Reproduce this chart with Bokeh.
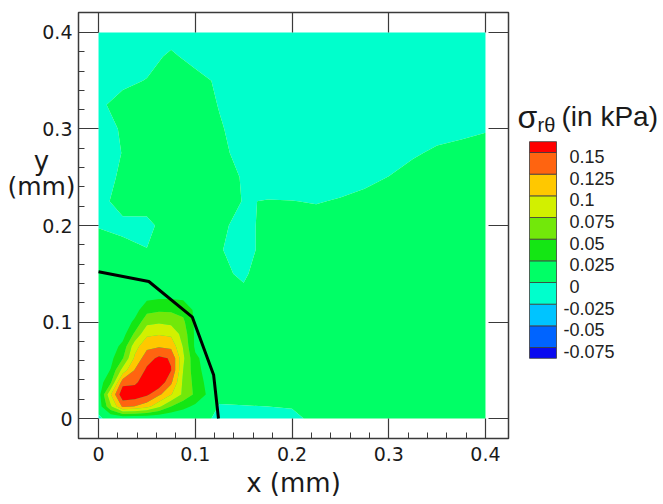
import numpy as np
from bokeh.plotting import figure
from bokeh.models import Range1d, FixedTicker, LinearAxis, Label
from bokeh.layouts import row
from bokeh.embed import file_html
from bokeh.resources import INLINE
from bokeh.core.properties import value

# ---------------- data ----------------
levels = [-0.1, -0.075, -0.05, -0.025, 0.0, 0.025, 0.05, 0.075, 0.1, 0.125, 0.15, 0.2]
palette = ["#0a0af0", "#0064ff", "#00c4ff", "#00ffcc", "#00ff66", "#14e614",
           "#72e80a", "#d2f000", "#ffc800", "#ff6410", "#ff0000"]

# coarse field over the whole domain (rows = y, cols = x), kPa
coarse_x = [0.0, 0.025, 0.05, 0.075, 0.1, 0.125, 0.15, 0.175, 0.2,
            0.225, 0.25, 0.275, 0.3, 0.325, 0.35, 0.375, 0.4]
coarse_y = [0.0, 0.025, 0.05, 0.075, 0.1, 0.125, 0.15, 0.175, 0.2,
            0.225, 0.25, 0.275, 0.3, 0.325, 0.35, 0.375, 0.4]
coarse_z = [
    [-0.004, 0.02, 0.02, 0.015, 0.012, -0.006, -0.006, -0.005, -0.004, 0.0043, 0.01, 0.01, 0.01, 0.01, 0.01, 0.01, 0.01],
    [0.02, 0.012, 0.012, 0.012, 0.012, 0.004, 0.005, 0.005, 0.006, 0.008, 0.01, 0.01, 0.01, 0.01, 0.01, 0.01, 0.01],
    [0.01, 0.01, 0.01, 0.01, 0.01, 0.01, 0.01, 0.01, 0.01, 0.01, 0.01, 0.01, 0.01, 0.01, 0.01, 0.01, 0.01],
    [0.01, 0.01, 0.01, 0.01, 0.01, 0.01, 0.01, 0.01, 0.01, 0.01, 0.01, 0.01, 0.01, 0.01, 0.01, 0.01, 0.01],
    [0.01, 0.01, 0.01, 0.01, 0.01, 0.01, 0.01, 0.01, 0.01, 0.01, 0.01, 0.01, 0.01, 0.01, 0.01, 0.01, 0.01],
    [0.01, 0.01, 0.01, 0.01, 0.01, 0.01, 0.005, 0.01, 0.012, 0.012, 0.012, 0.012, 0.012, 0.012, 0.012, 0.012, 0.012],
    [0.01, 0.01, 0.01, 0.01, 0.01, 0.004, -0.003, 0.012, 0.012, 0.012, 0.012, 0.012, 0.012, 0.012, 0.012, 0.012, 0.012],
    [0.008, 0.007, 0.0005, 0.01, 0.01, 0.002, -0.011, 0.011, 0.012, 0.012, 0.012, 0.012, 0.012, 0.012, 0.012, 0.012, 0.012],
    [-0.001, -0.006, -0.006, 0.012, 0.01, 0.007, -0.011, 0.011, 0.01, 0.0088, 0.0116, 0.012, 0.012, 0.012, 0.012, 0.012, 0.012],
    [-0.008, 0.0095, 0.01, 0.01, 0.01, 0.01, -0.001, 0.0008, 0.0004, -0.0012, 0.0016, 0.0052, 0.0104, 0.012, 0.012, 0.012, 0.012],
    [-0.008, 0.0031, 0.01, 0.01, 0.01, 0.01, -0.002, -0.0092, -0.01, -0.01, -0.0084, -0.0048, 0.0004, 0.0076, 0.012, 0.012, 0.012],
    [-0.008, 0.0005, 0.01, 0.01, 0.01, 0.006, -0.008, -0.01, -0.01, -0.01, -0.01, -0.01, -0.0096, -0.0024, 0.0032, 0.0056, 0.0084],
    [-0.008, 0.002, 0.01, 0.01, 0.01, 0.002, -0.008, -0.01, -0.01, -0.01, -0.01, -0.01, -0.01, -0.01, -0.0068, -0.0044, -0.0016],
    [-0.004, 0.008, 0.01, 0.01, 0.01, -0.001, -0.01, -0.01, -0.01, -0.01, -0.01, -0.01, -0.01, -0.01, -0.01, -0.01, -0.01],
    [-0.01, -0.005, 0.001, 0.01, 0.008, -0.004, -0.01, -0.01, -0.01, -0.01, -0.01, -0.01, -0.01, -0.01, -0.01, -0.01, -0.01],
    [-0.01, -0.01, -0.008, 0.004, -0.008, -0.01, -0.01, -0.01, -0.01, -0.01, -0.01, -0.01, -0.01, -0.01, -0.01, -0.01, -0.01],
    [-0.01, -0.01, -0.01, -0.01, -0.01, -0.01, -0.01, -0.01, -0.01, -0.01, -0.01, -0.01, -0.01, -0.01, -0.01, -0.01, -0.01],
]

# finer field around the stress concentration (rows = y, cols = x), kPa
fine_x = [0.0, 0.0125, 0.025, 0.0375, 0.05, 0.0625, 0.075, 0.0875, 0.1, 0.1125, 0.125]
fine_y = [0.0, 0.0125, 0.025, 0.0375, 0.05, 0.0625, 0.075, 0.0875, 0.1, 0.1125, 0.125, 0.1375]
fine_z = [
    [0.0, 0.0, 0.0, 0.0, 0.0, 0.0, 0.0, 0.005, 0.008, 0.01, 0.01],
    [0.01, 0.07, 0.13, 0.124, 0.11, 0.08, 0.05, 0.032, 0.02, 0.012, 0.01],
    [0.012, 0.098, 0.17, 0.168, 0.155, 0.13, 0.102, 0.07, 0.045, 0.022, 0.012],
    [0.012, 0.045, 0.14, 0.145, 0.165, 0.17, 0.13, 0.07, 0.042, 0.018, 0.01],
    [0.01, 0.026, 0.085, 0.127, 0.155, 0.172, 0.151, 0.075, 0.035, 0.015, 0.01],
    [0.01, 0.018, 0.048, 0.105, 0.14, 0.155, 0.148, 0.08, 0.03, 0.015, 0.01],
    [0.01, 0.012, 0.032, 0.09, 0.118, 0.122, 0.118, 0.073, 0.02, 0.012, 0.01],
    [0.01, 0.01, 0.015, 0.055, 0.095, 0.098, 0.095, 0.065, 0.02, 0.012, 0.01],
    [0.01, 0.01, 0.01, 0.03, 0.068, 0.072, 0.068, 0.055, 0.02, 0.012, 0.01],
    [0.01, 0.01, 0.01, 0.015, 0.042, 0.046, 0.046, 0.042, 0.02, 0.012, 0.01],
    [0.01, 0.01, 0.01, 0.01, 0.02, 0.023, 0.023, 0.021, 0.015, 0.01, 0.01],
    [0.01, 0.01, 0.01, 0.01, 0.01, 0.01, 0.01, 0.01, 0.01, 0.01, 0.01],
]

# black boundary curve
curve_x = [0.0, 0.052, 0.097, 0.119, 0.124]
curve_y = [0.152, 0.142, 0.105, 0.045, 0.0]

# axis ticks
x_ticks = [0.0, 0.1, 0.2, 0.3, 0.4]
x_tick_labels = ["0", "0.1", "0.2", "0.3", "0.4"]
y_ticks = [0.0, 0.1, 0.2, 0.3, 0.4]
y_tick_labels = ["0", "0.1", "0.2", "0.3", "0.4"]
minor_ticks = [0.0, 0.02, 0.04, 0.06, 0.08, 0.1, 0.12, 0.14, 0.16, 0.18, 0.2,
               0.22, 0.24, 0.26, 0.28, 0.3, 0.32, 0.34, 0.36, 0.38, 0.4]

# colour-bar labels
cb_levels = [0.15, 0.125, 0.1, 0.075, 0.05, 0.025, 0.0, -0.025, -0.05, -0.075]
cb_labels = ["0.15", "0.125", "0.1", "0.075", "0.05", "0.025", "0", "-0.025", "-0.05", "-0.075"]

# ---------------- styles ----------------
AX_FONT = "DejaVu Sans"
CB_FONT = "Liberation Sans"
frame_col = "#3a3a3a"
text_col = "#1a1a1a"
H = 500

y_range = Range1d(-0.0207, 0.4207)
x_range = Range1d(-0.0207, 0.4238)

# ---------------- main plot ----------------
p = figure(width=434, height=H, x_range=x_range, y_range=y_range,
           output_backend="svg", toolbar_location=None,
           min_border_left=2, min_border_right=2, min_border_top=12, min_border_bottom=62)
p.grid.visible = False
p.background_fill_color = "white"
p.outline_line_color = frame_col
p.outline_line_width = 1.5

p.contour(x=coarse_x, y=coarse_y, z=np.array(coarse_z), levels=levels, fill_color=palette)
p.contour(x=fine_x, y=fine_y, z=np.array(fine_z), levels=levels[5:], fill_color=palette[5:])
p.line(curve_x, curve_y, line_color="black", line_width=3)


def style_axis(ax, ticks, labels, show_labels, minor):
    ax.ticker = FixedTicker(ticks=ticks, minor_ticks=minor if minor else [])
    ax.major_label_overrides = dict(zip(ticks, labels))
    ax.axis_line_color = None
    ax.major_tick_in = 20
    ax.major_tick_out = 0
    ax.major_tick_line_color = frame_col
    ax.major_tick_line_width = 1.2
    ax.minor_tick_in = 6
    ax.minor_tick_out = 0
    ax.minor_tick_line_color = frame_col if minor else None
    ax.minor_tick_line_width = 1
    ax.major_label_text_font = AX_FONT
    if show_labels:
        ax.major_label_text_font_size = "19px"
        ax.major_label_text_color = text_col
    else:
        ax.major_label_text_font_size = "1px"
        ax.major_label_text_color = None
        ax.major_label_standoff = 0


xax = p.xaxis[0]
yax = p.yaxis[0]
style_axis(xax, x_ticks, x_tick_labels, True, minor_ticks)
style_axis(yax, y_ticks, y_tick_labels, False, minor_ticks)
xax.major_label_standoff = 8
xax.axis_label = "x (mm)"
xax.axis_label_text_font = AX_FONT
xax.axis_label_text_font_size = "26px"
xax.axis_label_text_font_style = "normal"
xax.axis_label_text_color = text_col
xax.axis_label_standoff = 4

top_ax = LinearAxis()
right_ax = LinearAxis()
style_axis(top_ax, x_ticks, x_tick_labels, False, None)
style_axis(right_ax, y_ticks, y_tick_labels, False, None)
p.add_layout(top_ax, "above")
p.add_layout(right_ax, "right")

# ---------------- left strip: y tick labels and y label ----------------
lf = figure(width=76, height=H, x_range=Range1d(0, 76), y_range=y_range,
            output_backend="svg", toolbar_location=None, min_border=0,
            x_axis_location=None, y_axis_location=None)
lf.grid.visible = False
lf.outline_line_color = None
lf.text(x=[72] * len(y_ticks), y=y_ticks, text=y_tick_labels, text_font=value(AX_FONT),
        text_font_size="19px", text_align="right", text_baseline="middle",
        text_color=text_col)
lf.add_layout(Label(x=41, y=278, x_units="screen", y_units="screen", text="y",
                    text_align="center", text_baseline="alphabetic",
                    text_font=AX_FONT, text_font_size="26px", text_color=text_col))
lf.add_layout(Label(x=41, y=252, x_units="screen", y_units="screen", text="(mm)",
                    text_align="center", text_baseline="alphabetic",
                    text_font=AX_FONT, text_font_size="25px", text_color=text_col))

# ---------------- colour bar ----------------
step = levels[2] - levels[1]
band_edges = [levels[1] - step / 2] + levels[1:-1] + [levels[-2] + step / 2]
band_lo = band_edges[:-1]
band_hi = band_edges[1:]

cb = figure(width=150, height=H, x_range=Range1d(0, 150), y_range=Range1d(-0.18, 0.31154),
            output_backend="svg", toolbar_location=None, min_border=0,
            x_axis_location=None, y_axis_location=None)
cb.grid.visible = False
cb.outline_line_color = None
cb.quad(left=19, right=46, bottom=band_lo, top=band_hi, fill_color=palette,
        line_color="#3c3c3c", line_width=0.8)
label_x = [53 if s.startswith("-") else 59 for s in cb_labels]
cb.text(x=label_x, y=cb_levels, text=cb_labels, text_font=value(CB_FONT),
        text_font_size="18px", text_baseline="middle", text_align="left",
        y_offset=4, text_color="#222222")

cb.add_layout(Label(x=7, y=322, x_units="screen", y_units="screen", text="σ",
                    text_font=CB_FONT, text_font_size="32px",
                    text_baseline="alphabetic", text_color=text_col))
cb.add_layout(Label(x=27, y=314, x_units="screen", y_units="screen", text="rθ",
                    text_font=CB_FONT, text_font_size="20px",
                    text_baseline="alphabetic", text_color=text_col))
cb.add_layout(Label(x=51, y=322, x_units="screen", y_units="screen", text="(in kPa)",
                    text_font=CB_FONT, text_font_size="28px",
                    text_baseline="alphabetic", text_color=text_col))

layout = row(lf, p, cb)
open("out.html", "w").write(file_html(layout, INLINE))
